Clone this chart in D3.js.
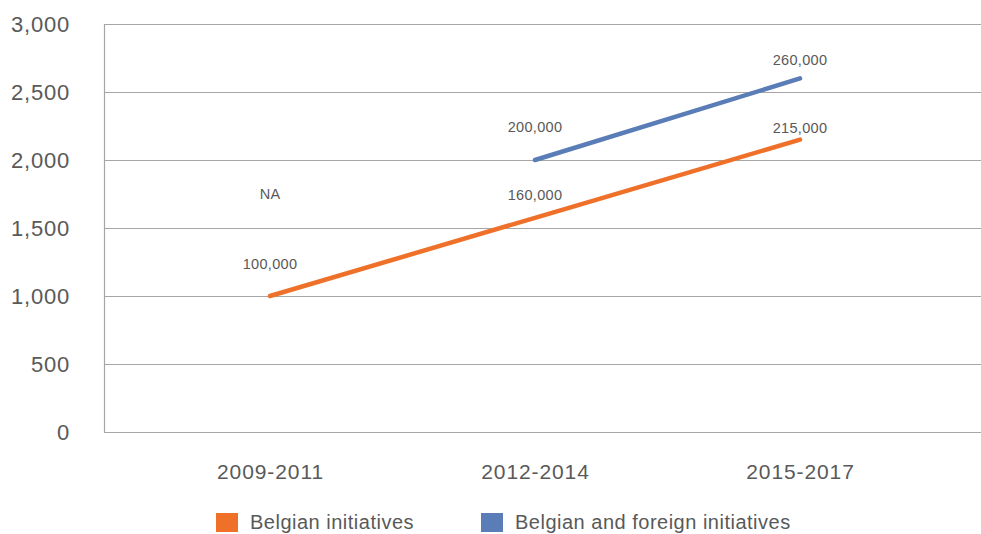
<!DOCTYPE html>
<html>
<head>
<meta charset="utf-8">
<script src="https://cdn.jsdelivr.net/npm/d3@7"></script>
<style>
  body { margin: 0; background: #fff; }
  text { font-family: "Liberation Sans", Arial, sans-serif; fill: #595959; }
</style>
</head>
<body>
<svg id="chart" width="981" height="534"></svg>
<script>
// periods on the x axis
const periods = ["2009-2011", "2012-2014", "2015-2017"];
// values (null = no data)
const belgian = [1000, 1575, 2150];
const belgianForeign = [null, 2000, 2600];
// data labels shown on the chart
const belgianLabels = ["100,000", "160,000", "215,000"];
const belgianForeignLabels = ["NA", "200,000", "260,000"];
const yTicks = [0, 500, 1000, 1500, 2000, 2500, 3000];
const seriesNames = ["Belgian initiatives", "Belgian and foreign initiatives"];

const svg = d3.select("#chart");
const margin = { top: 24, left: 104, right: 0, bottom: 102 };
const width = 981 - margin.left - margin.right,
  height = 534 - margin.top - margin.bottom;

const x = d3.scalePoint().domain(periods).range([166, 696]);
const y = d3.scaleLinear().domain([0, 3000]).range([height, 0]);

const colors = ["#ef7029", "#5a7db7"];

const g = svg.append("g")
  .attr("transform", "translate(" + margin.left + "," + margin.top + ")");

// gridlines
g.append("g")
  .selectAll("line")
  .data(yTicks)
  .join("line")
  .attr("x1", 0)
  .attr("x2", width)
  .attr("y1", d => Math.round(y(d)) + 0.5)
  .attr("y2", d => Math.round(y(d)) + 0.5)
  .attr("stroke", "#a6a6a6")
  .attr("stroke-width", 1.2);

// left axis line
g.append("line")
  .attr("x1", 0.5).attr("x2", 0.5)
  .attr("y1", y(3000)).attr("y2", y(0))
  .attr("stroke", "#a6a6a6")
  .attr("stroke-width", 1.2);

// y tick labels
const yAxis = d3.axisLeft(y).tickValues(yTicks).tickFormat(d3.format(",")).tickSize(0).tickPadding(34);
g.append("g").call(yAxis)
  .call(a => a.select(".domain").remove())
  .selectAll("text")
  .attr("font-size", 22)
  .attr("letter-spacing", 0.8)
  .attr("font-family", null)
  .attr("fill", "#595959");

// x tick labels
const xAxis = d3.axisBottom(x).tickSize(0).tickPadding(32);
g.append("g").attr("transform", "translate(0," + height + ")").call(xAxis)
  .call(a => a.select(".domain").remove())
  .selectAll("text")
  .attr("font-size", 21)
  .attr("letter-spacing", 0.9)
  .attr("font-family", null)
  .attr("fill", "#595959");

// lines
const line = d3.line()
  .defined(d => d.v !== null)
  .x(d => x(d.p))
  .y(d => y(d.v));

const series = [belgian, belgianForeign].map(vals => periods.map((p, i) => ({ p: p, v: vals[i] })));

g.selectAll(".series")
  .data(series)
  .join("path")
  .attr("class", "series")
  .attr("d", line)
  .attr("fill", "none")
  .attr("stroke", (d, i) => colors[i])
  .attr("stroke-width", 4.5)
  .attr("stroke-linecap", "round");

// data labels (pixel offsets above the point)
const labelOffsets = [[27, 18, 7], [-1, 28, 13]];
const naAnchor = 1720; // "NA" sits where the missing point would be
[belgianLabels, belgianForeignLabels].forEach((labels, s) => {
  const vals = s === 0 ? belgian : belgianForeign;
  g.append("g").selectAll("text")
    .data(labels)
    .join("text")
    .attr("x", (d, i) => x(periods[i]))
    .attr("y", (d, i) => y(vals[i] === null ? naAnchor : vals[i]) - labelOffsets[s][i])
    .attr("text-anchor", "middle")
    .attr("font-size", 14.5)
    .attr("letter-spacing", 0.3)
    .text(d => d);
});

// legend
const legend = svg.append("g").attr("transform", "translate(0,522)");
const legendX = [216, 481];
seriesNames.forEach((name, i) => {
  legend.append("rect")
    .attr("x", legendX[i]).attr("y", -9)
    .attr("width", 22).attr("height", 19)
    .attr("fill", colors[i]);
  legend.append("text")
    .attr("x", legendX[i] + 34).attr("y", 7)
    .attr("font-size", 20)
    .attr("letter-spacing", 0.5)
    .text(name);
});
</script>
</body>
</html>
